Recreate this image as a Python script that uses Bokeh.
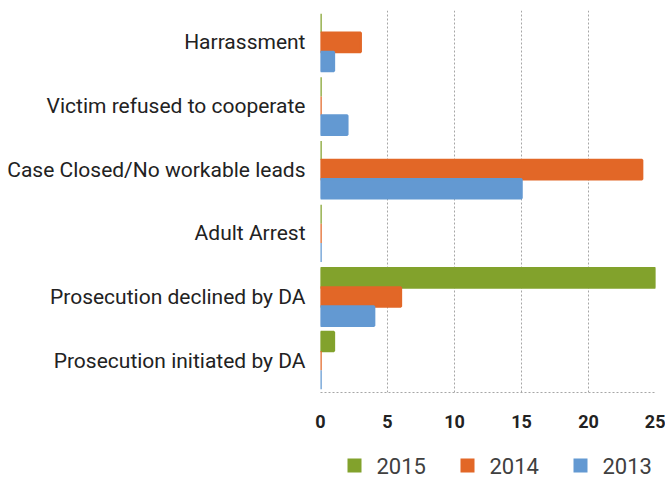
from bokeh.plotting import figure
from bokeh.layouts import column
from bokeh.models import FactorRange, Range1d, FixedTicker
from bokeh.core.properties import value
from bokeh.transform import dodge
from bokeh.embed import file_html
from bokeh.resources import INLINE

categories = ["Harrassment", "Victim refused to cooperate", "Case Closed/No workable leads",
              "Adult Arrest", "Prosecution declined by DA", "Prosecution initiated by DA"]
v2015 = [0, 0, 0, 0, 25, 1]
v2014 = [3, 0, 24, 0, 6, 0]
v2013 = [1, 2, 15, 0, 4, 0]
series = ["2015", "2014", "2013"]
colors = ["#82A22C", "#E26727", "#6399D2"]
ticks = [0, 5, 10, 15, 20, 25]

FONT = "Roboto"
LEFT, FW, RIGHT = 320, 335, 10

p = figure(frame_width=FW, frame_height=382, output_backend="svg", toolbar_location=None,
           y_range=FactorRange(factors=list(reversed(categories))),
           x_range=Range1d(0, 25),
           min_border_left=LEFT, min_border_right=RIGHT, min_border_top=10, min_border_bottom=48)
p.outline_line_color = None
p.background_fill_color = "white"

data = {"cat": categories, "2015": v2015, "2014": v2014, "2013": v2013}
offsets = [0.3, 0.0, -0.3]
for s, c, off in zip(series, colors, offsets):
    p.hbar(y=dodge("cat", off, range=p.y_range), left=0, right=s, height=0.3,
           source=data, fill_color=c, line_color=c, line_width=2.5)

p.xaxis.ticker = FixedTicker(ticks=ticks)
p.xaxis.axis_line_color = "#a6a6a6"
p.xaxis.axis_line_dash = "2 2"
p.xaxis.major_tick_line_color = None
p.xaxis.minor_tick_line_color = None
p.xaxis.major_label_text_font = FONT
p.xaxis.major_label_text_font_size = "18px"
p.xaxis.major_label_text_color = "#222222"
p.xaxis.major_label_text_font_style = "bold"
p.xaxis.major_label_standoff = 16

p.yaxis.axis_line_color = None
p.yaxis.major_tick_line_color = None
p.yaxis.minor_tick_line_color = None
p.yaxis.major_label_text_font = FONT
p.yaxis.major_label_text_font_size = "21px"
p.yaxis.major_label_text_color = "#222222"
p.yaxis.major_label_standoff = 9

p.ygrid.grid_line_color = None
p.xgrid.grid_line_color = "#a6a6a6"
p.xgrid.grid_line_dash = "2 2"
p.xgrid.grid_line_width = 1

# legend strip below the chart; its frame is aligned with the chart frame,
# and its x range is in page pixels
LH = 37
lg = figure(frame_width=FW, frame_height=LH, output_backend="svg", toolbar_location=None,
            x_range=Range1d(LEFT, LEFT + FW), y_range=Range1d(0, LH),
            x_axis_location=None, y_axis_location=None,
            min_border_left=LEFT, min_border_right=RIGHT, min_border_top=0, min_border_bottom=0)
lg.grid.visible = False
lg.outline_line_color = None
item_x0, item_step, item_y = 354, 113, 12
sq_x = [item_x0 + i * item_step for i in range(len(series))]
tx_x = [x + 22 for x in sq_x]
lg.rect(x=sq_x, y=[item_y] * len(series), width=14, height=14,
        fill_color=colors, line_color=None)
lg.text(x=tx_x, y=[item_y] * len(series), text=series,
        text_font=value(FONT), text_font_size="22px", text_color="#404040",
        text_baseline="middle", text_align="left")

layout = column(p, lg, spacing=0)
open("out.html", "w").write(file_html(layout, INLINE))
